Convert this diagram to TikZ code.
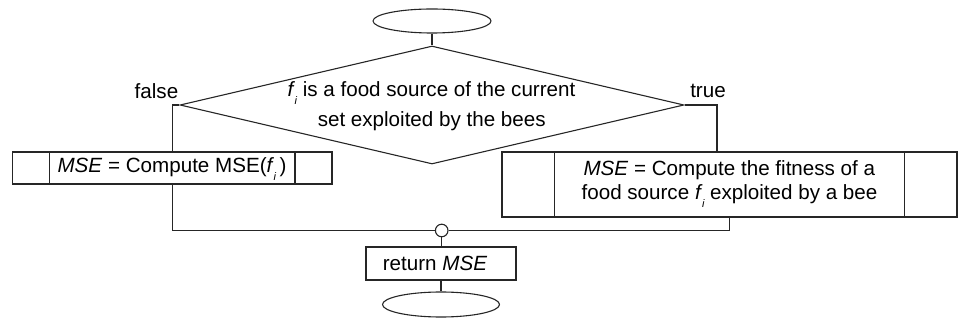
\documentclass[tikz,border=0pt]{standalone}
\usepackage{fontspec}
\setmainfont{Liberation Sans}
\usetikzlibrary{shapes.geometric}
% italic f with a lowered small italic i
\newcommand\fsubi{\textit{f}\kern-0.5pt\raisebox{-8pt}{\fontsize{11}{11}\selectfont\itshape i}}
\tikzset{
  line/.style={draw=black!85, line width=1.1pt},
  term/.style={ellipse, line, inner sep=0pt},
  procbox/.style={rectangle, line, inner sep=0pt},
  txt/.style={anchor=base, inner sep=0pt, font=\fontsize{20.6}{24}\selectfont},
}
\begin{document}
\begin{tikzpicture}[x=1pt, y=-1pt]
\useasboundingbox (0,0) rectangle (960,320);

% terminals
\node[term, minimum width=118pt, minimum height=24pt] (start) at (432,21) {};
\node[term, minimum width=117pt, minimum height=25pt] (stop) at (441,304.5) {};

% decision
\node[diamond, line, inner sep=0pt, minimum width=504pt, minimum height=118pt] (cond) at (432,105) {};
\node[txt] (c1) at (431.5,96.7) {\fsubi\ is a food source of the current};
\node[txt] (c2) at (431.7,126.7) {set exploited by the bees};
\node[txt] (lf) at (156.5,99) {false};
\node[txt] (lt) at (708,98) {true};

% left process box
\node[procbox, minimum width=319.3pt, minimum height=32pt] (L) at (172.3,168) {};
\draw[line] ([xshift=37.5pt]L.north west) -- ([xshift=37.5pt]L.south west);
\draw[line] ([xshift=-37.5pt]L.north east) -- ([xshift=-37.5pt]L.south east);
\node[txt] (lt1) at (172,173) {\textit{MSE} = Compute MSE(\fsubi\,)};

% right process box
\node[procbox, minimum width=455pt, minimum height=65pt] (R) at (729.5,184.5) {};
\draw[line] ([xshift=53pt]R.north west) -- ([xshift=53pt]R.south west);
\draw[line] ([xshift=-53pt]R.north east) -- ([xshift=-53pt]R.south east);
\node[txt] (rt1) at (729.3,176) {\textit{MSE} = Compute the fitness of a};
\node[txt] (rt2) at (729.5,199.5) {food source \fsubi\ exploited by a bee};

% junction
\node[circle, line, fill=white, inner sep=0pt, minimum size=12.6pt] (J) at (441.7,230.5) {};

% return box
\node[procbox, minimum width=150pt, minimum height=33pt] (ret) at (441,263.5) {};
\node[txt] (rtx) at (435,270.7) {return \textit{MSE}};

% connectors
\draw[line] (start.south) -- (cond.north);
\draw[line] (cond.west) -| (L.north);
\draw[line] (cond.east) -| ([xshift=-12.5pt]R.north);
\draw[line] (L.south) |- (J.west);
\draw[line] (R.south) |- (J.east);
\draw[line] (J.south) -- (J.south |- ret.north);
\draw[line] (ret.south) -- (ret.south |- stop.north);
\end{tikzpicture}
\end{document}
